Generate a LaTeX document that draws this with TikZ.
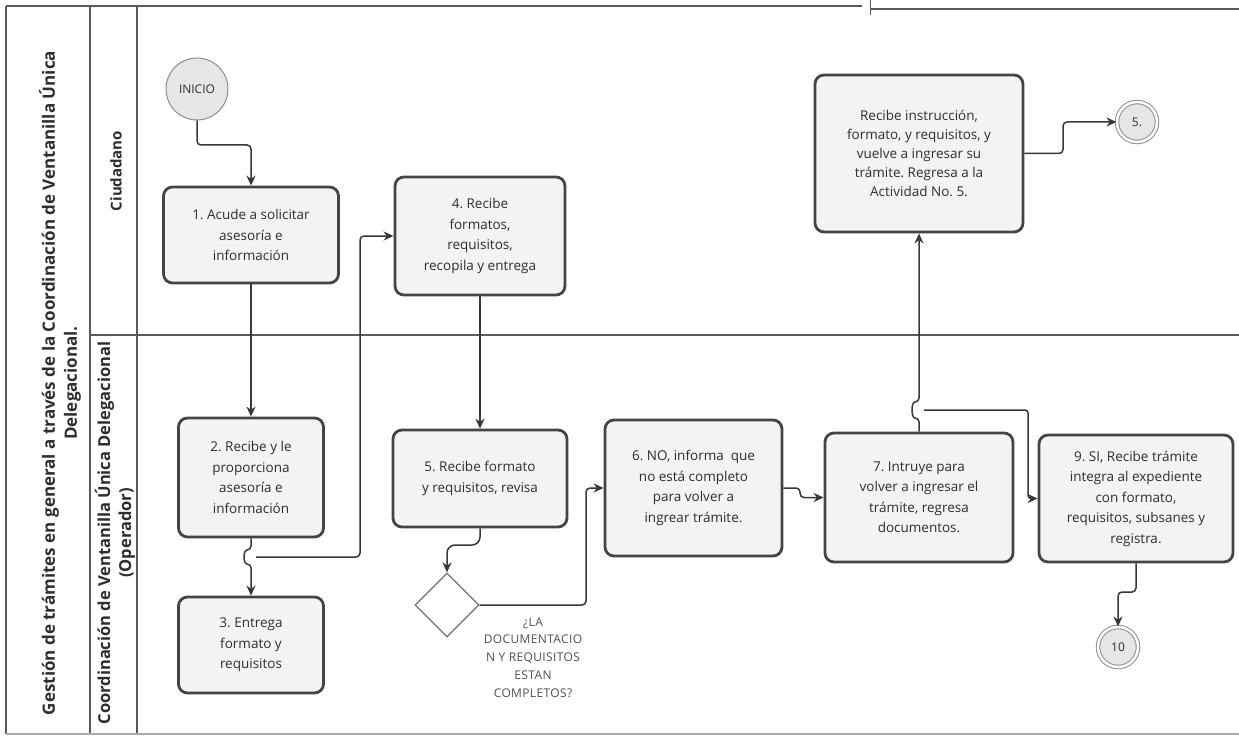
\documentclass[tikz,border=0pt]{standalone}
\usepackage{fontspec}
\setmainfont{Open Sans}
\usetikzlibrary{arrows.meta,shapes.geometric}
\frenchspacing

\definecolor{boxline}{HTML}{444444}
\definecolor{boxfill}{HTML}{F3F3F1}
\definecolor{txt}{HTML}{2E2E2E}
\definecolor{flowclr}{HTML}{383838}
\definecolor{laneclr}{HTML}{5A5A5A}
\definecolor{evfill}{HTML}{E6E6E6}
\definecolor{evline}{HTML}{8E8E8E}
\definecolor{qtxt}{HTML}{505050}

\begin{document}
\begin{tikzpicture}[x=1pt,y=-1pt,
  proc/.style={rectangle, rounded corners=9pt, draw=boxline, line width=2.8pt,
    fill=boxfill, text=txt, align=center, inner sep=0pt,
    font=\fontsize{13.5}{20.5}\selectfont},
  flow/.style={draw=flowclr, line width=1.5pt, rounded corners=4pt,
    -{Stealth[length=10pt,width=9pt]}},
  lane/.style={draw=laneclr, line width=1.2pt},
  lanelabel/.style={rotate=90, align=center, text=txt,
    font=\fontsize{17}{22}\selectfont\bfseries},
  startev/.style={circle, draw=evline, line width=1pt, fill=evfill,
    minimum size=62pt, inner sep=0pt, text=txt, font=\fontsize{12}{14}\selectfont},
  linkev/.style={circle, draw=evline, line width=1pt, double=white,
    double distance=2.5pt, fill=evfill, minimum size=40pt, inner sep=0pt,
    text=txt, font=\fontsize{12}{14}\selectfont},
  gate/.style={diamond, aspect=1, draw=evline!80!black, line width=1.3pt,
    fill=white, minimum size=64pt, inner sep=0pt},
  qtext/.style={align=center, text=qtxt,
    font=\fontsize{12}{17.8}\selectfont\addfontfeature{LetterSpace=3}}
]
\useasboundingbox (0,0) rectangle (1239,738);
\fill[white] (0,0) rectangle (1239,738);

% pool and lanes
\draw[lane, line width=2pt] (6,6) -- (862,6);
\draw[lane, line width=1pt] (870,0) -- (870,15);
\draw[lane, line width=1.6pt] (870,9) -- (1239,9);
\draw[lane] (6,6) -- (6,734);
\draw[lane] (90,6) -- (90,734);
\draw[lane] (137,6) -- (137,734);
\draw[lane] (90,335) -- (1239,335);
\draw[lane, draw=laneclr!50] (6,734) -- (1239,734);

\node[lanelabel] (pool) at (60,383)
  {Gestión de trámites en general a través de la Coordinación de Ventanilla Única\\Delegacional.};
\node[lanelabel, font=\fontsize{15}{20}\selectfont\bfseries] (laneA) at (116,171) {Ciudadano};
\node[lanelabel, font=\fontsize{16.5}{21}\selectfont\bfseries] (laneB) at (115,533)
  {Coordinación de Ventanilla Única Delegacional\\(Operador)};

% events, activities, gateway
\node[startev] (ini) at (197,89) {INICIO};
\node[proc, minimum width=175pt, minimum height=96pt] (b1) at (251,235)
  {1. Acude a solicitar\\asesoría e\\información};
\node[proc, minimum width=170pt, minimum height=118pt] (b4) at (480,236)
  {4. Recibe\\formatos,\\requisitos,\\recopila y entrega};
\node[proc, minimum width=145pt, minimum height=119pt] (b2) at (251,477.5)
  {2. Recibe y le\\proporciona\\asesoría e\\información};
\node[proc, minimum width=145pt, minimum height=96pt] (b3) at (251,645)
  {3. Entrega\\formato y\\requisitos};
\node[proc, minimum width=174pt, minimum height=97pt] (b5) at (480,478.5)
  {5. Recibe formato\\y requisitos, revisa};
\node[gate] (dia) at (447,605) {};
\node[qtext] (q) at (533,657.5)
  {¿LA\\DOCUMENTACIO\\N Y REQUISITOS\\ESTAN\\COMPLETOS?};
\node[proc, minimum width=177pt, minimum height=136pt] (b6) at (693.5,488)
  {6. NO, informa\ \ que\\no está completo\\para volver a\\ingrear trámite.};
\node[proc, minimum width=188pt, minimum height=129pt] (b7) at (919,497.5)
  {7. Intruye para\\volver a ingresar el\\trámite, regresa\\documentos.};
\node[proc, minimum width=194pt, minimum height=127pt] (b9) at (1136,498.5)
  {9. SI, Recibe trámite\\integra al expediente\\con formato,\\requisitos, subsanes y\\registra.};
\node[proc, minimum width=208pt, minimum height=157pt,
  font=\fontsize{13.5}{19}\selectfont] (bR) at (919,153.5)
  {Recibe instrucción,\\formato, y requisitos, y\\vuelve a ingresar su\\trámite. Regresa a la\\Actividad No. 5.};
\node[linkev] (e5) at (1137,122) {5.};
\node[linkev] (e10) at (1118,647) {10};

% bend points of the connectors
\coordinate (k1) at (197,145);
\coordinate (h1) at (251,550);
\coordinate (h2) at (251,564);
\coordinate (s3) at (256,557);
\coordinate (k3) at (360,557);
\coordinate (k5a) at (480,545);
\coordinate (k6) at (586,605);
\coordinate (k7) at (800,488);
\coordinate (h3) at (919,418);
\coordinate (h4) at (919,402);
\coordinate (s9) at (924,410);
\coordinate (k9) at (1028,410);
\coordinate (k5) at (1063,153.5);
\coordinate (k10a) at (1136,592);
\coordinate (k10b) at (1118,592);

% sequence flows
\draw[flow] (ini.south) -- (k1) -| (b1.north);
\draw[flow] (b1.south) -- (b2.north);
\draw[flow] (b2.south) -- (h1) .. controls (243,550) and (243,564) .. (h2) -- (b3.north);
\draw[flow] (s3) -- (k3) |- (b4.west);
\draw[flow] (b4.south) -- (b5.north);
\draw[flow, rounded corners=8pt] (b5.south) -- (k5a) -| (dia.north);
\draw[flow] (dia.east) -- (k6) |- (b6.west);
\draw[flow] (b6.east) -- (k7) |- (b7.west);
\draw[flow] (b7.north) -- (h3) .. controls (911,418) and (911,402) .. (h4) -- (bR.south);
\draw[flow, rounded corners=3pt] (s9) -- (k9) |- (b9.west);
\draw[flow] (bR.east) -- (k5) |- (e5.west);
\draw[flow] (b9.south) -- (k10a) -- (k10b) -- (e10.north);
\end{tikzpicture}
\end{document}
